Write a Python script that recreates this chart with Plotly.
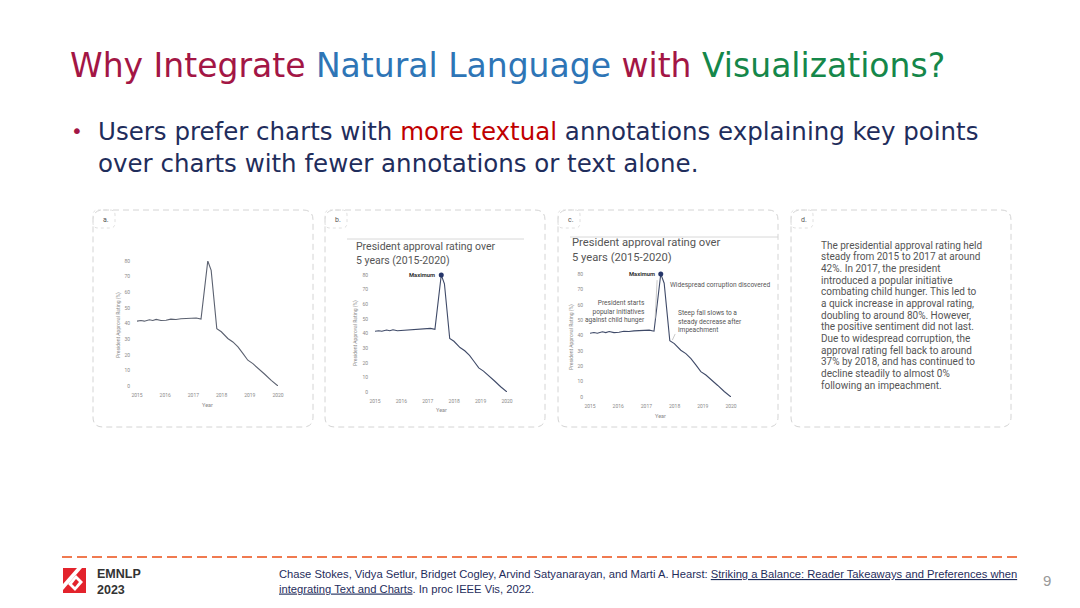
import plotly.graph_objects as go

W, H = 1080, 608

# approval rating series (same data in all three charts)
years = [2015.0, 2015.14, 2015.26, 2015.44, 2015.56, 2015.68, 2015.85, 2016.03, 2016.2,
         2016.38, 2016.56, 2016.74, 2016.92, 2017.1, 2017.27, 2017.51, 2017.63, 2017.83,
         2017.99, 2018.22, 2018.4, 2018.58, 2018.76, 2018.93, 2019.11, 2019.29, 2019.53,
         2019.76, 2020.0]
rating = [41.5, 41.9, 41.5, 42.4, 41.9, 42.6, 41.9, 42.1, 42.8,
          42.6, 43.0, 43.2, 43.4, 43.5, 42.8, 80.0, 74.0, 36.6,
          34.7, 30.4, 28.2, 25.0, 20.7, 16.5, 14.3, 11.1, 7.5,
          3.6, 0.0]
year_ticks = [2015, 2016, 2017, 2018, 2019, 2020]
rating_ticks = [0, 10, 20, 30, 40, 50, 60, 70, 80]
max_year, max_rating = 2017.51, 80.0

panel_labels = ["a.", "b.", "c.", "d."]
chart_title = "President approval rating over<br>5 years (2015-2020)"
summary_lines = [
    "The presidential approval rating held",
    "steady from 2015 to 2017 at around",
    "42%. In 2017, the president",
    "introduced a popular initiative",
    "combating child hunger. This led to",
    "a quick increase in approval rating,",
    "doubling to around 80%. However,",
    "the positive sentiment did not last.",
    "Due to widespread corruption, the",
    "approval rating fell back to around",
    "37% by 2018, and has continued to",
    "decline steadily to almost 0%",
    "following an impeachment.",
]

FONT = "Roboto, Arial, sans-serif"
SLIDE_FONT = "'DejaVu Sans', Verdana, sans-serif"
CITE_FONT = "'Liberation Sans', Arial, sans-serif"


def px(x):
    return x / W


def py(y):
    return 1 - y / H


def rounded_rect(x0, y0, x1, y1, r):
    # path in paper coords from a pixel box
    pts = [
        f"M {px(x0 + r)},{py(y0)}",
        f"L {px(x1 - r)},{py(y0)}",
        f"Q {px(x1)},{py(y0)} {px(x1)},{py(y0 + r)}",
        f"L {px(x1)},{py(y1 - r)}",
        f"Q {px(x1)},{py(y1)} {px(x1 - r)},{py(y1)}",
        f"L {px(x0 + r)},{py(y1)}",
        f"Q {px(x0)},{py(y1)} {px(x0)},{py(y1 - r)}",
        f"L {px(x0)},{py(y0 + r)}",
        f"Q {px(x0)},{py(y0)} {px(x0 + r)},{py(y0)}",
        "Z",
    ]
    return " ".join(pts)


def poly(points):
    return "M " + " L ".join(f"{px(x)},{py(y)}" for x, y in points) + " Z"


fig = go.Figure()

# chart boxes in pixels: (left, right, top, bottom) of the 2015-2020 / 0-80 area
charts = [
    dict(x0=137, x1=278, y0=261, y1=386, line="#5b6170", ytitle_x=118, ytitle_y=325,
         year_y=405),
    dict(x0=375, x1=507, y0=275, y1=392, line="#3f4a68", ytitle_x=355, ytitle_y=333,
         year_y=410),
    dict(x0=590, x1=731, y0=274, y1=397, line="#3f4a68", ytitle_x=571, ytitle_y=337,
         year_y=416),
]

annotations = []
shapes = []

for i, c in enumerate(charts):
    n = "" if i == 0 else str(i + 1)
    fig.add_trace(go.Scatter(
        x=years, y=rating, mode="lines", line=dict(color=c["line"], width=1.1),
        xaxis="x" + n, yaxis="y" + n, cliponaxis=False, showlegend=False,
        hoverinfo="skip"))
    fig.update_layout(**{
        "xaxis" + n: dict(domain=[px(c["x0"]), px(c["x1"])], range=[2015, 2020],
                          tickvals=year_ticks, showgrid=False, zeroline=False,
                          showline=False, ticks="", ticklabelstandoff=5, automargin=False,
                          tickfont=dict(family=FONT, size=5, color="#8a8a8a"),
                          anchor="y" + n, fixedrange=True),
        "yaxis" + n: dict(domain=[py(c["y1"]), py(c["y0"])], range=[0, 80],
                          tickvals=rating_ticks, showgrid=False, zeroline=False,
                          showline=False, ticks="", ticklabelstandoff=6, automargin=False,
                          tickfont=dict(family=FONT, size=5, color="#8a8a8a"),
                          anchor="x" + n, fixedrange=True),
    })
    annotations.append(dict(
        x=px((c["x0"] + c["x1"]) / 2), y=py(c["year_y"]), xref="paper", yref="paper",
        text="Year", font=dict(family=FONT, size=5.5, color="#8a8a8a")))
    annotations.append(dict(
        x=px(c["ytitle_x"]), y=py(c["ytitle_y"]), xref="paper", yref="paper",
        text="President Approval Rating (%)", textangle=-90,
        font=dict(family=FONT, size=5, color="#8a8a8a")))
    if i > 0:
        fig.add_trace(go.Scatter(
            x=[max_year], y=[max_rating], mode="markers",
            marker=dict(color="#26366a", size=5), xaxis="x" + n, yaxis="y" + n,
            cliponaxis=False, showlegend=False, hoverinfo="skip"))
        annotations.append(dict(
            x=max_year, y=max_rating, xref="x" + n, yref="y" + n, text="<b>Maximum</b>",
            xanchor="right", xshift=-4, font=dict(family=FONT, size=5.8, color="#333333")))

# chart titles in b and c
for left, right, rule_y, title_x, title_y, size in [(347, 524, 239, 354, 253, 10.5),
                                                      (570, 778, 237, 570, 250, 11.2)]:
    shapes.append(dict(type="line", xref="paper", yref="paper", x0=px(left), x1=px(right),
                       y0=py(rule_y), y1=py(rule_y), line=dict(color="#d8d8d8", width=1)))
    annotations.append(dict(
        x=px(title_x), y=py(title_y), xref="paper", yref="paper", text=chart_title,
        xanchor="left", align="left", font=dict(family=FONT, size=size, color="#555555")))

# extra annotations in chart c
ann_font = dict(family=FONT, size=6.6, color="#555555")
annotations += [
    dict(x=2017.78, y=72.8, xref="x3", yref="y3", xanchor="left",
         text="Widespread corruption discovered", font=ann_font),
    dict(x=2017.02, y=55.5, xref="x3", yref="y3", xanchor="right",
         align="right", text="President starts<br>popular initiatives<br>against child hunger",
         font=ann_font),
    dict(x=2018.05, y=49, xref="x3", yref="y3", xanchor="left",
         align="left", text="Steep fall slows to a<br>steady decrease after<br>impeachment",
         font=ann_font),
]
shapes += [
    dict(type="line", xref="x3", yref="y3", x0=2017.31, y0=51, x1=2017.38, y1=76,
         line=dict(color="#bbbbbb", width=0.8)),
    dict(type="line", xref="x3", yref="y3", x0=2017.92, y0=37, x1=2018.02, y1=41,
         line=dict(color="#bbbbbb", width=0.8)),
]

# panel d text
for k, line in enumerate(summary_lines):
    annotations.append(dict(
        x=px(819), y=py(245 + k * 11.67), xref="paper", yref="paper", text=line,
        xanchor="left", font=dict(family=FONT, size=10, color="#555555")))

# dashed panel frames and label tabs
for k, left in enumerate([93, 325, 558, 791]):
    shapes.append(dict(type="path", xref="paper", yref="paper",
                       path=rounded_rect(left, 210, left + 220, 427, 10),
                       line=dict(color="#d4d4d4", width=1, dash="6px,4px")))
    shapes.append(dict(type="path", xref="paper", yref="paper",
                       path=rounded_rect(left, 210, left + 22, 228, 5),
                       line=dict(color="#e0e0e0", width=1, dash="3px,3px")))
    annotations.append(dict(
        x=px(left + 8), y=py(219.5), xref="paper", yref="paper", text=panel_labels[k],
        xanchor="left", font=dict(family=FONT, size=7, color="#555555")))

# slide title and bullet
annotations += [
    dict(x=px(68), y=py(66), xref="paper", yref="paper", xanchor="left",
         text="<span style='color:#a31645'>Why Integrate </span>"
              "<span style='color:#2e75b6'>Natural Language </span>"
              "<span style='color:#a31645'>with </span>"
              "<span style='color:#15874a'>Visualizations?</span>",
         font=dict(family=SLIDE_FONT, size=33)),
    dict(x=px(77), y=py(131), xref="paper", yref="paper",
         text="•", font=dict(family=SLIDE_FONT, size=20, color="#a31645")),
    dict(x=px(96), y=py(147), xref="paper", yref="paper", xanchor="left", align="left",
         text="Users prefer charts with <span style='color:#c00000'>more textual</span> "
              "annotations explaining key points<br>over charts with fewer annotations or text alone.",
         font=dict(family=SLIDE_FONT, size=24.5, color="#1f2d5c")),
]

# footer: dashed rule, logo, citation, page number
shapes.append(dict(type="line", xref="paper", yref="paper", x0=px(62), x1=px(1018),
                   y0=py(557), y1=py(557), line=dict(color="#f07a50", width=2, dash="10px,5px")))
shapes.append(dict(type="rect", xref="paper", yref="paper", x0=px(63), x1=px(86),
                   y0=py(593), y1=py(568), fillcolor="#e3232c", line=dict(width=0)))
shapes.append(dict(type="path", xref="paper", yref="paper", fillcolor="white",
                   line=dict(width=0),
                   path=poly([(63, 584), (77, 568), (82, 568), (63, 590)])))
shapes.append(dict(type="path", xref="paper", yref="paper", fillcolor="white",
                   line=dict(width=0),
                   path=poly([(76, 575), (83, 582), (75, 591), (68, 584)])))
shapes.append(dict(type="path", xref="paper", yref="paper", fillcolor="#e3232c",
                   line=dict(width=0),
                   path=poly([(76, 579), (79, 582), (75, 587), (72, 584)])))
annotations += [
    dict(x=px(95), y=py(582), xref="paper", yref="paper", xanchor="left",
         align="left", text="<b>EMNLP<br>2023</b>",
         font=dict(family="'Liberation Sans', Arial, sans-serif", size=12.5, color="#333333")),
    dict(x=px(277), y=py(581), xref="paper", yref="paper", xanchor="left", align="left",
         text="Chase Stokes, Vidya Setlur, Bridget Cogley, Arvind Satyanarayan, and Marti A. Hearst: "
              "<span style='text-decoration:underline'>Striking a Balance: Reader Takeaways and "
              "Preferences when</span><br><span style='text-decoration:underline'>integrating "
              "Text and Charts</span>. In proc IEEE Vis, 2022.",
         font=dict(family=CITE_FONT, size=11.2, color="#1f2d5c")),
    dict(x=px(1047), y=py(580), xref="paper", yref="paper",
         text="9", font=dict(family="'Liberation Sans', Arial, sans-serif", size=15,
                             color="#999999")),
]

for a in annotations:
    a.setdefault("showarrow", False)
    a.setdefault("xanchor", "center")
    a.setdefault("yanchor", "middle")

fig.update_layout(
    width=W, height=H, margin=dict(l=0, r=0, t=0, b=0),
    paper_bgcolor="white", plot_bgcolor="white",
    annotations=annotations, shapes=shapes, showlegend=False,
)

fig.write_html("out.html", config={"displayModeBar": False},
               post_script="document.body.style.margin='0';")
